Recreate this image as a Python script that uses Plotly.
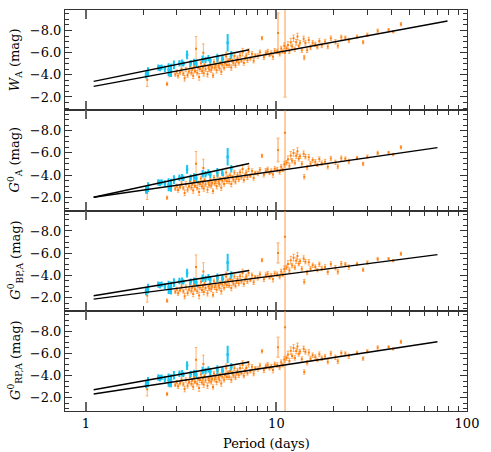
import plotly.graph_objects as go
from plotly.subplots import make_subplots

# ---------------- data ----------------
orange_period = [2.10, 2.67, 2.75, 2.95, 3.00, 3.05, 3.12, 3.18, 3.25, 3.30,
                 3.35, 3.42, 3.48, 3.52, 3.58, 3.62, 3.66, 3.70, 3.74, 3.79,
                 3.84, 3.88, 3.93, 3.97, 4.02, 4.07, 4.12, 4.14, 4.16, 4.20,
                 4.25, 4.35, 4.40, 4.44, 4.50, 4.55, 4.60, 4.65, 4.70, 4.75,
                 4.80, 4.86, 4.92, 4.97, 5.02, 5.08, 5.14, 5.20, 5.26, 5.32,
                 5.38, 5.45, 5.50, 5.58, 5.65, 5.72, 5.80, 5.88, 5.95, 6.02,
                 6.10, 6.18, 6.25, 6.35, 6.45, 6.55, 6.65, 6.75, 6.85, 6.95,
                 7.05, 7.15, 7.30, 7.45, 7.60, 7.75, 8.00, 8.20, 8.40, 8.60,
                 8.80, 9.00, 9.20, 9.40, 9.60, 9.80, 10.1, 10.4, 10.6, 10.8,
                 11.0, 11.3, 11.5, 11.7, 11.9, 12.1, 12.3, 12.5, 12.7, 12.9,
                 13.1, 13.3, 13.6, 13.9, 14.0, 14.2, 14.5, 14.8, 15.1, 15.5,
                 16.0, 16.4, 16.8, 17.3, 18.0, 18.6, 19.3, 20.4, 21.0, 21.9,
                 23.0, 24.0, 26.5, 28.5, 30.0, 34.0, 38.8, 41.0, 45.0]
orange_err = [0.60, 0.15, 0.20, 0.15, 0.15, 0.20, 0.15, 0.20, 0.15, 0.25,
              0.20, 0.20, 0.15, 0.20, 0.20, 0.15, 0.25, 0.20, 0.15, 1.10,
              0.20, 0.15, 0.30, 0.20, 0.20, 0.20, 0.15, 0.80, 0.25, 0.15,
              0.20, 0.25, 0.15, 0.20, 0.15, 0.20, 0.15, 0.20, 0.20, 0.20,
              0.15, 0.25, 0.20, 0.15, 0.20, 0.15, 0.25, 0.20, 0.20, 0.20,
              0.15, 0.40, 0.20, 0.15, 0.20, 0.20, 0.25, 0.15, 0.20, 0.20,
              0.20, 0.15, 0.20, 0.20, 0.20, 0.15, 0.35, 0.20, 0.15, 0.20,
              0.20, 0.25, 0.15, 0.20, 0.20, 0.15, 0.20, 0.20, 0.15, 0.20,
              0.20, 0.20, 0.15, 0.20, 0.25, 0.20, 0.20, 0.20, 0.20, 0.15,
              0.25, 0.20, 0.30, 0.20, 0.35, 0.20, 0.30, 0.20, 0.25, 0.30,
              0.20, 0.20, 0.20, 0.25, 0.20, 0.20, 0.20, 0.25, 0.20, 0.20,
              0.20, 0.15, 0.20, 0.20, 0.20, 0.20, 0.20, 0.20, 0.20, 0.20,
              0.15, 0.20, 0.15, 0.15, 0.15, 0.15, 0.10, 0.10, 0.15]
w_a = [-3.55, -3.18, -4.02, -4.02, -4.29, -3.91, -4.20, -4.52, -4.10, -3.68,
       -4.49, -3.97, -4.30, -4.76, -4.19, -4.50, -3.91, -4.78, -4.35, -6.35,
       -4.18, -4.65, -3.81, -4.53, -5.04, -4.31, -4.68, -5.99, -4.14, -4.90,
       -4.52, -4.05, -4.72, -4.48, -4.90, -4.42, -4.68, -3.94, -5.16, -4.63,
       -4.89, -4.41, -5.37, -4.84, -4.60, -5.07, -4.28, -4.90, -5.42, -4.63,
       -5.05, -5.66, -4.88, -5.30, -4.86, -5.43, -4.65, -5.27, -5.04, -5.70,
       -4.87, -5.24, -5.50, -5.08, -5.75, -5.27, -6.04, -5.06, -5.48, -5.75,
       -5.32, -6.09, -5.47, -5.89, -5.27, -5.75, -5.69, -6.03, -7.31, -5.59,
       -5.97, -6.10, -5.79, -5.96, -5.64, -6.17, -6.11, -5.90, -6.38, -6.10,
       -6.63, -6.37, -6.69, -6.12, -6.94, -6.56, -7.29, -6.31, -6.93, -7.45,
       -6.57, -6.89, -6.22, -7.25, -5.56, -6.88, -6.21, -7.14, -6.47, -6.90,
       -6.75, -6.48, -7.06, -6.65, -7.01, -6.56, -7.31, -6.98, -6.62, -7.38,
       -7.35, -7.10, -7.44, -6.94, -7.61, -7.98, -8.07, -7.89, -8.57]
g_a = [-2.40, -1.96, -2.79, -2.77, -3.03, -2.65, -2.93, -3.24, -2.82, -2.39,
       -3.20, -2.67, -2.99, -3.46, -2.87, -3.19, -2.60, -3.46, -3.02, -5.03,
       -2.85, -3.31, -2.47, -3.19, -3.70, -2.96, -3.33, -4.63, -2.79, -3.55,
       -3.16, -2.68, -3.34, -3.10, -3.52, -3.03, -3.29, -2.55, -3.77, -3.23,
       -3.49, -3.00, -3.97, -3.43, -3.19, -3.65, -2.86, -3.48, -3.99, -3.20,
       -3.61, -4.23, -3.44, -3.85, -3.41, -3.98, -3.19, -3.81, -3.57, -4.23,
       -3.40, -3.76, -4.02, -3.59, -4.26, -3.77, -4.54, -3.56, -3.97, -4.24,
       -3.80, -4.57, -3.94, -4.36, -3.73, -4.20, -4.14, -4.47, -5.74, -4.02,
       -4.39, -4.52, -4.19, -4.36, -4.04, -4.56, -4.49, -4.27, -4.74, -4.46,
       -4.98, -5.11, -5.43, -4.85, -5.77, -5.29, -6.00, -5.12, -5.74, -6.16,
       -5.47, -5.69, -5.01, -5.93, -3.84, -5.66, -4.68, -5.60, -5.02, -5.35,
       -5.19, -4.91, -5.44, -5.07, -5.21, -4.75, -5.49, -5.15, -4.78, -5.52,
       -5.48, -5.22, -5.53, -5.01, -5.66, -6.00, -6.04, -5.85, -6.50]
gbp_a = [-2.18, -1.71, -2.54, -2.51, -2.77, -2.39, -2.66, -2.98, -2.55, -2.12,
         -2.93, -2.40, -2.72, -3.18, -2.60, -2.91, -2.32, -3.18, -2.74, -4.74,
         -2.56, -3.02, -2.18, -2.90, -3.41, -2.67, -3.03, -4.34, -2.49, -3.25,
         -2.86, -2.38, -3.04, -2.80, -3.22, -2.73, -2.99, -2.25, -3.46, -2.92,
         -3.18, -2.69, -3.65, -3.11, -2.87, -3.33, -2.55, -3.16, -3.67, -2.88,
         -3.29, -3.90, -3.11, -3.53, -3.09, -3.65, -2.86, -3.47, -3.24, -3.90,
         -3.06, -3.42, -3.69, -3.25, -3.92, -3.43, -4.20, -3.21, -3.62, -3.89,
         -3.45, -4.21, -3.58, -4.00, -3.37, -3.84, -3.77, -4.10, -5.37, -3.64,
         -4.02, -4.14, -3.81, -3.98, -3.65, -4.17, -4.10, -3.88, -4.35, -4.06,
         -4.58, -4.71, -5.03, -4.44, -5.36, -4.88, -5.59, -4.71, -5.32, -5.74,
         -5.05, -5.27, -4.59, -5.51, -3.42, -5.23, -4.25, -5.17, -4.59, -4.91,
         -4.74, -4.47, -4.99, -4.62, -4.76, -4.29, -5.03, -4.68, -4.31, -5.05,
         -5.00, -4.74, -5.03, -4.50, -5.15, -5.47, -5.50, -5.31, -5.95]
grp_a = [-2.76, -2.34, -3.17, -3.15, -3.42, -3.04, -3.31, -3.64, -3.21, -2.78,
         -3.60, -3.07, -3.39, -3.85, -3.27, -3.58, -3.00, -3.86, -3.42, -5.43,
         -3.25, -3.71, -2.88, -3.59, -4.10, -3.37, -3.73, -5.04, -3.19, -3.95,
         -3.57, -3.09, -3.75, -3.52, -3.93, -3.44, -3.71, -2.97, -4.18, -3.64,
         -3.90, -3.42, -4.38, -3.84, -3.61, -4.07, -3.28, -3.90, -4.41, -3.62,
         -4.04, -4.65, -3.86, -4.28, -3.84, -4.40, -3.62, -4.23, -4.00, -4.66,
         -3.83, -4.19, -4.46, -4.02, -4.69, -4.21, -4.98, -3.99, -4.41, -4.68,
         -4.24, -5.01, -4.38, -4.80, -4.18, -4.65, -4.59, -4.91, -6.19, -4.47,
         -4.84, -4.97, -4.65, -4.82, -4.49, -5.02, -4.95, -4.73, -5.21, -4.93,
         -5.45, -5.58, -5.90, -5.32, -6.24, -5.76, -6.48, -5.59, -6.21, -6.63,
         -5.95, -6.17, -5.49, -6.41, -4.32, -6.14, -5.16, -6.09, -5.51, -5.84,
         -5.67, -5.40, -5.93, -5.56, -5.71, -5.25, -5.99, -5.65, -5.28, -6.03,
         -5.99, -5.74, -6.05, -5.53, -6.19, -6.53, -6.58, -6.40, -7.05]

# two stars with very large uncertainties
special_period = [10.2, 11.1]
special_w = [-7.77, -6.00]
special_w_err = [1.80, 4.00]
special_g = [-6.26, -7.83]
special_g_err = [1.05, 8.00]
special_bp = [-6.02, -7.47]
special_bp_err = [0.90, 8.00]
special_rp = [-6.56, -8.37]
special_rp_err = [0.90, 8.00]

cyan_period = [2.07, 2.12, 2.40, 2.45, 2.50, 2.72, 2.80, 2.90, 3.10, 3.20,
               3.25, 3.40, 3.55, 3.80, 4.10, 4.25, 4.40, 4.50, 4.90, 5.20,
               5.55, 5.80, 3.70, 2.60]
cyan_err = [0.25, 0.35, 0.20, 0.20, 0.15, 0.50, 0.50, 0.30, 0.20, 0.20,
            0.15, 0.30, 0.20, 0.30, 0.25, 0.20, 0.20, 0.20, 0.30, 0.20,
            0.70, 0.25, 0.20, 0.20]
cyan_w = [-4.00, -4.25, -4.65, -4.60, -4.70, -4.45, -4.40, -4.90, -5.05, -5.10,
          -5.00, -5.80, -5.05, -5.00, -5.40, -5.35, -5.50, -5.30, -5.50, -5.45,
          -6.90, -5.80, -5.15, -4.55]
cyan_g = [-2.66, -2.91, -3.32, -3.28, -3.37, -3.13, -3.08, -3.59, -3.75, -3.80,
          -3.71, -4.51, -3.76, -3.72, -4.12, -4.08, -4.24, -4.03, -4.24, -4.20,
          -5.66, -4.56, -3.87, -3.23]
cyan_bp = [-2.55, -2.80, -3.16, -3.10, -3.19, -2.91, -2.85, -3.34, -3.48, -3.51,
           -3.41, -4.20, -3.43, -3.36, -3.74, -3.68, -3.82, -3.61, -3.78, -3.71,
           -5.15, -4.03, -3.52, -3.02]
cyan_rp = [-3.19, -3.44, -3.82, -3.76, -3.85, -3.59, -3.53, -4.03, -4.17, -4.21,
           -4.11, -4.90, -4.14, -4.08, -4.46, -4.41, -4.55, -4.34, -4.53, -4.47,
           -5.91, -4.80, -4.23, -3.69]

# fitted period-luminosity relations: [start, end] periods and magnitudes
fit_all_period = {"w": [1.1, 79.0], "g": [1.1, 70.0], "bp": [1.1, 70.0], "rp": [1.1, 70.0]}
fit_all_mag = {"w": [-2.96, -8.86], "g": [-2.00, -6.48], "bp": [-1.85, -5.87], "rp": [-2.33, -7.05]}
fit_cyan_period = [1.1, 7.2]
fit_cyan_mag = {"w": [-3.41, -6.26], "g": [-2.00, -5.04], "bp": [-2.15, -4.43], "rp": [-2.72, -5.22]}

y_titles = ["<i>W</i><sub>A</sub> (mag)",
            "<i>G</i><sup>0</sup><sub>A</sub> (mag)",
            "<i>G</i><sup>0</sup><sub>BP,A</sub> (mag)",
            "<i>G</i><sup>0</sup><sub>RP,A</sub> (mag)"]
y_tick_vals = [-2, -4, -6, -8]
y_tick_text = ["\u22122.0", "\u22124.0", "\u22126.0", "\u22128.0"]
x_tick_vals = [1, 10, 100]
x_tick_text = ["1", "10", "100"]
x_minor_vals = [2, 3, 4, 5, 6, 7, 8, 9, 20, 30, 40, 50, 60, 70, 80, 90]
y_minor_vals = [-1.0, -1.5, -2.5, -3.0, -3.5, -4.5, -5.0, -5.5, -6.5, -7.0, -7.5, -8.5, -9.0, -9.5]

# ---------------- figure ----------------
ORANGE = "#ff7f0e"
ORANGE_ERR = "rgba(255,127,14,0.6)"
CYAN = "#19c6f2"
FONT = "DejaVu Serif"

panels = [
    ("w", w_a, special_w, special_w_err, cyan_w),
    ("g", g_a, special_g, special_g_err, cyan_g),
    ("bp", gbp_a, special_bp, special_bp_err, cyan_bp),
    ("rp", grp_a, special_rp, special_rp_err, cyan_rp),
]

fig = make_subplots(rows=4, cols=1, shared_xaxes=True, vertical_spacing=0)

for i, (key, omag, smag, serr, cmag) in enumerate(panels, start=1):
    fig.add_trace(go.Scatter(
        x=special_period, y=smag, mode="markers",
        marker=dict(color=ORANGE, size=2, symbol="square"),
        error_y=dict(type="data", array=serr, color="rgba(255,150,60,0.6)", thickness=1.6, width=1.5),
        showlegend=False), row=i, col=1)
    fig.add_trace(go.Scatter(
        x=orange_period, y=omag, mode="markers",
        marker=dict(color=ORANGE, size=2, symbol="square"),
        error_y=dict(type="data", array=orange_err, color=ORANGE_ERR, thickness=1, width=1.2),
        showlegend=False), row=i, col=1)
    fig.add_trace(go.Scatter(
        x=cyan_period, y=cmag, mode="markers",
        marker=dict(color=CYAN, size=2.5, symbol="square"),
        error_y=dict(type="data", array=cyan_err, color=CYAN, thickness=2, width=1),
        showlegend=False), row=i, col=1)
    fig.add_trace(go.Scatter(
        x=fit_cyan_period, y=fit_cyan_mag[key], mode="lines",
        line=dict(color="black", width=1.4), showlegend=False), row=i, col=1)
    fig.add_trace(go.Scatter(
        x=fit_all_period[key], y=fit_all_mag[key], mode="lines",
        line=dict(color="black", width=1.4), showlegend=False), row=i, col=1)

axis_font = dict(family=FONT, size=13, color="black")
for i in range(1, 5):
    fig.update_xaxes(
        type="log", range=[-0.109, 2.0],
        tickmode="array", tickvals=x_tick_vals, ticktext=x_tick_text,
        ticks="inside", ticklen=9, tickwidth=1.5, tickcolor="#666",
        minor=dict(tickmode="array", tickvals=x_minor_vals, ticks="inside",
                   ticklen=5, tickwidth=1, tickcolor="#333", showgrid=False),
        showline=True, linecolor="#333", linewidth=1, mirror="ticks",
        showgrid=False, zeroline=False, tickfont=axis_font,
        row=i, col=1)
    fig.update_yaxes(
        range=[-0.8, -9.85],
        tickmode="array", tickvals=y_tick_vals, ticktext=y_tick_text,
        ticks="inside", ticklen=7, tickwidth=1, tickcolor="#333",
        minor=dict(tickmode="array", tickvals=y_minor_vals, ticks="inside",
                   ticklen=4, tickwidth=1, tickcolor="#333", showgrid=False),
        showline=True, linecolor="#333", linewidth=1, mirror="ticks",
        showgrid=False, zeroline=False, tickfont=axis_font,
        row=i, col=1)
    yref = "y domain" if i == 1 else f"y{i} domain"
    fig.add_annotation(text=y_titles[i - 1], xref="paper", yref=yref,
                       x=0, y=0.5, xanchor="center", yanchor="middle",
                       xshift=-50, textangle=-90, showarrow=False,
                       font=dict(family=FONT, size=13, color="black"))

fig.add_annotation(text="Period (days)", xref="paper", yref="paper",
                   x=0.5, y=0, xanchor="center", yanchor="middle",
                   yshift=-32, showarrow=False,
                   font=dict(family=FONT, size=13, color="black"))

fig.update_layout(
    width=491, height=452,
    margin=dict(l=65, r=24, t=10, b=41),
    paper_bgcolor="white", plot_bgcolor="white",
    font=dict(family=FONT, size=13, color="black"),
)

fig.write_html("out.html", config={"displayModeBar": False},
               post_script="document.body.style.margin='0';document.body.style.overflow='hidden';")
